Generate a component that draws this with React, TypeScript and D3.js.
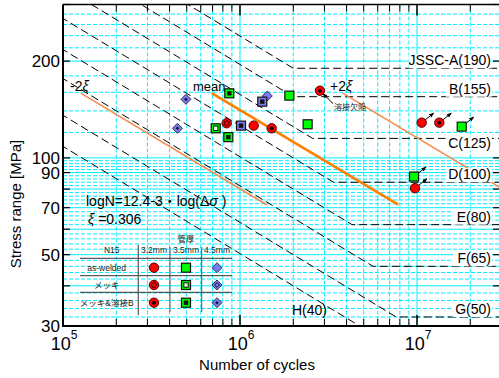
import React from 'react';
import * as d3 from 'd3';

const W = 499;
const H = 378;

// JSSC fatigue strength classes (value at 2x10^6 cycles) and constant amplitude limits
const classLabels = ['JSSC-A(190)', 'B(155)', 'C(125)', 'D(100)', 'E(80)', 'F(65)', 'G(50)', 'H(40)'];
const classStrength = [190, 155, 125, 100, 80, 65, 50, 40];
const classCutoff = [190, 155, 115, 84, 62, 46, 32, 23];

// axis ticks
const yTicks = [30, 40, 50, 60, 70, 80, 90, 100, 200, 300];
const yTickLabels = [200, 100, 90, 70, 50, 30];
const xDecades = [1e5, 1e6, 1e7];
const xTickExp = ['5', '6', '7'];

// test results [cycles, stress range MPa]
const redWelded = [[1.195e6, 126.0]];
const redWeldedRunout = [[1.063e7, 128.7], [9.74e6, 80.5]];
const redPlated = [[8.41e5, 128.2]];
const redPlatedB = [[1.51e6, 123.6], [2.83e6, 161.8]];
const redPlatedBRunout = [[1.337e7, 128.7]];
const greenWelded = [[1.9e6, 156.2], [2.41e6, 127.2]];
const greenWeldedRunout = [[1.789e7, 125.1], [9.62e6, 87.5]];
const greenPlated = [[7.29e5, 123.6]];
const greenPlatedB = [[8.7e5, 158.8], [8.59e5, 116.0]];
const blueWelded = [[1.426e6, 155.8]];
const bluePlatedB = [[4.95e5, 152.1], [4.43e5, 123.6]];
const blueSquareB = [[1.013e6, 126.0], [1.336e6, 149.6]];
const defectPoint = [2.83e6, 161.8];

// regression lines: end stresses and cycles
const fitStress = [159, 71.5];
const meanN = [6.92e5, 7.83e6];
const minus2N = [1.259e5, 1.415e6];
const plus2N = [3.8e6, 4.27e7];

const L = 63, R = 500, T = 4.5, B = 326;
const x = d3.scaleLog().domain([1e5, 1e7]).range([L, 417]);
const y = d3.scaleLog().domain([30, 300]).range([B, T]);

const RED = '#ff0000';
const GREEN = '#00ff00';
const BLUE = '#7a7af2';
const CYAN = '#00eeff';
const ORANGE = '#ff7f00';
const FONT = 'Liberation Sans, Arial, Noto Sans CJK JP, sans-serif';

type Shape = 'circle' | 'square' | 'diamond' | 'bsquare';
type Variant = 'welded' | 'plated' | 'platedB';

function Marker({ shape, variant, cx, cy }: { shape: Shape; variant: Variant; cx: number; cy: number }) {
  if (shape === 'circle') {
    return (
      <g>
        <circle cx={cx} cy={cy} r={4.7} fill={RED} stroke="#500" strokeWidth={1} />
        {variant === 'plated' && <circle cx={cx} cy={cy} r={2.4} fill="none" stroke="#300" strokeWidth={1} />}
        {variant === 'platedB' && <circle cx={cx} cy={cy} r={2} fill="#200" />}
      </g>
    );
  }
  if (shape === 'square' || shape === 'bsquare') {
    const fill = shape === 'square' ? GREEN : BLUE;
    return (
      <g>
        <rect x={cx - 4.5} y={cy - 4.5} width={9} height={9} fill={fill} stroke="#111" strokeWidth={1.2} />
        {variant === 'plated' && <rect x={cx - 2.2} y={cy - 2.2} width={4.4} height={4.4} fill="#e0ffe0" stroke="#111" strokeWidth={1} />}
        {variant === 'platedB' && <rect x={cx - 2.2} y={cy - 2.2} width={4.4} height={4.4} fill="#111" />}
      </g>
    );
  }
  const d = (r: number) => `M${cx},${cy - r}L${cx + r},${cy}L${cx},${cy + r}L${cx - r},${cy}Z`;
  return (
    <g>
      <path d={d(5)} fill={BLUE} stroke="#334" strokeWidth={1} />
      {variant === 'plated' && <path d={d(2.4)} fill="none" stroke="#113" strokeWidth={1} />}
      {variant === 'platedB' && <path d={d(1.8)} fill="#113" />}
    </g>
  );
}

function Points({ data, shape, variant, runout }: { data: number[][]; shape: Shape; variant: Variant; runout?: boolean }) {
  return (
    <g>
      {data.map((p, i) => {
        const cx = x(p[0]);
        const cy = y(p[1]);
        return (
          <g key={i}>
            {runout && (
              <line x1={cx} y1={cy} x2={cx + 12} y2={cy - 9.5} stroke="#000" strokeWidth={1} markerEnd="url(#arr)" />
            )}
            <Marker shape={shape} variant={variant} cx={cx} cy={cy} />
          </g>
        );
      })}
    </g>
  );
}

export default function App() {
  const minorX: number[] = [];
  xDecades.forEach((d) => {
    for (let k = 2; k <= 9; k++) if (x(k * d) < R) minorX.push(k * d);
  });
  const solidY = [40, 50, 60, 70, 80, 90, 100, 200];
  const dashedY = d3.range(32, 100, 2).filter((v) => v % 10 !== 0).concat([120, 140, 160, 180, 220, 240, 260, 280]);

  const line = d3.line<number[]>().x((d) => x(d[0])).y((d) => y(d[1]));
  const classPath = (i: number) => {
    const s = classStrength[i];
    const c = classCutoff[i];
    const knee = 2e6 * Math.pow(s / c, 3);
    return line([
      [1e4, s * Math.pow(2e6 / 1e4, 1 / 3)],
      [knee, c],
      [1e8, c],
    ]);
  };

  // legend geometry
  const lgCols = [154, 186, 217];
  const lgRows = [267.7, 285, 302.7];
  const lgRowLabels = ['as-welded', 'メッキ', 'メッキ&溶接B'];
  const lgVariants: Variant[] = ['welded', 'plated', 'platedB'];
  const lgShapes: Shape[] = ['circle', 'square', 'diamond'];

  return (
    <svg width={W} height={H} style={{ position: 'absolute', left: 0, top: 0, background: '#fff' }} fontFamily={FONT}>
      <defs>
        <clipPath id="plot">
          <rect x={L} y={T} width={R - L} height={B - T} />
        </clipPath>
        <marker id="arr" viewBox="0 0 10 10" refX={9} refY={5} markerWidth={5} markerHeight={5} orient="auto">
          <path d="M0,1L10,5L0,9Z" fill="#000" />
        </marker>
      </defs>
      <rect width={W} height={H} fill="#fff" />

      {/* grid */}
      <g>
        {minorX.map((v) => (
          <line key={'vx' + v} x1={x(v)} x2={x(v)} y1={T} y2={B} stroke={CYAN} strokeWidth={1} strokeDasharray="4,2" />
        ))}
        {[1e6, 1e7].map((v) => (
          <line key={'vs' + v} x1={x(v)} x2={x(v)} y1={T} y2={B} stroke={CYAN} strokeWidth={1} />
        ))}
        {dashedY.map((v) => (
          <line key={'hd' + v} x1={L} x2={R} y1={y(v)} y2={y(v)} stroke={CYAN} strokeWidth={1} strokeDasharray="4,2" />
        ))}
        {solidY.map((v) => (
          <line key={'hs' + v} x1={L} x2={R} y1={y(v)} y2={y(v)} stroke={CYAN} strokeWidth={1} />
        ))}
      </g>

      {/* JSSC class lines */}
      <g clipPath="url(#plot)">
        {classStrength.map((s, i) => (
          <path key={'c' + i} d={classPath(i) || ''} fill="none" stroke="#000" strokeWidth={1} strokeDasharray="8,4" />
        ))}
      </g>

      {/* regression lines */}
      <g clipPath="url(#plot)">
        <path d={line([[minus2N[0], fitStress[0]], [minus2N[1], fitStress[1]]]) || ''} stroke="#f58a4a" strokeWidth={1.5} fill="none" />
        <path d={line([[plus2N[0], fitStress[0]], [plus2N[1], fitStress[1]]]) || ''} stroke="#f58a4a" strokeWidth={1.5} fill="none" />
        <path d={line([[meanN[0], fitStress[0]], [meanN[1], fitStress[1]]]) || ''} stroke={ORANGE} strokeWidth={2.6} fill="none" />
      </g>

      {/* class labels */}
      {classLabels.slice(0, 7).map((lab, i) => {
        const base = y(classCutoff[i]) + (i === 2 ? 9.5 : -3);
        const w = lab.length * 7.4;
        return (
          <g key={lab}>
            <rect x={491 - w - 1} y={base - 11} width={w + 2} height={14} fill="#fff" />
            <text x={491} y={base} fontSize={14} textAnchor="end" fill="#000">{lab}</text>
          </g>
        );
      })}
      <text x={292} y={315} fontSize={14} fill="#000">{classLabels[7]}</text>

      {/* annotations */}
      <text x={193} y={91} fontSize={13}>mean</text>
      <text x={70} y={91} fontSize={14}>-2<tspan fontStyle="italic">ξ</tspan></text>
      <text x={330} y={91} fontSize={14}>+2<tspan fontStyle="italic">ξ</tspan></text>
      <line x1={333} y1={103.5} x2={x(defectPoint[0]) + 3} y2={y(defectPoint[1]) + 3} stroke="#000" strokeWidth={1} markerEnd="url(#arr)" />
      <text x={334} y={110} fontSize={8} fill="#222">溶接欠陥</text>
      <text x={86} y={206} fontSize={14}>logN=12.4-3・log(Δ<tspan fontStyle="italic">σ</tspan> )</text>
      <text x={88} y={224} fontSize={14}><tspan fontStyle="italic">ξ</tspan> =0.306</text>

      {/* data */}
      <Points data={redWelded} shape="circle" variant="welded" />
      <Points data={redWeldedRunout} shape="circle" variant="welded" runout />
      <Points data={redPlated} shape="circle" variant="plated" />
      <Points data={redPlatedB} shape="circle" variant="platedB" />
      <Points data={redPlatedBRunout} shape="circle" variant="platedB" runout />
      <Points data={blueWelded} shape="diamond" variant="welded" />
      <Points data={bluePlatedB} shape="diamond" variant="platedB" />
      <Points data={blueSquareB} shape="bsquare" variant="platedB" />
      <Points data={greenWelded} shape="square" variant="welded" />
      <Points data={greenWeldedRunout} shape="square" variant="welded" runout />
      <Points data={greenPlated} shape="square" variant="plated" />
      <Points data={greenPlatedB} shape="square" variant="platedB" />

      {/* legend table */}
      <g fontSize={8.5} fill="#222" textAnchor="middle">
        <text x={186} y={242}>管厚</text>
        <text x={111.7} y={253}>N15</text>
        {['3.2mm', '3.5mm', '4.5mm'].map((t, i) => (
          <text key={t} x={lgCols[i]} y={253}>{t}</text>
        ))}
        {[258.3, 275.7, 292.3].map((yy) => (
          <line key={yy} x1={80} x2={232} y1={yy} y2={yy} stroke="#333" strokeWidth={1} />
        ))}
        <line x1={138.3} x2={138.3} y1={245} y2={315} stroke="#555" strokeWidth={1.2} />
        <line x1={170} x2={170} y1={247} y2={312} stroke="#555" strokeWidth={1} />
        <line x1={201.7} x2={201.7} y1={247} y2={312} stroke="#555" strokeWidth={1} />
        {lgRowLabels.map((t, r) => (
          <text key={t} x={106.7} y={lgRows[r] + 3}>{t}</text>
        ))}
        {lgRows.map((ry, r) =>
          lgCols.map((cx, c) => <Marker key={r + '-' + c} shape={lgShapes[c]} variant={lgVariants[r]} cx={cx} cy={ry} />)
        )}
      </g>

      {/* axes frame */}
      <line x1={L} x2={R} y1={T} y2={T} stroke="#000" strokeWidth={1.5} />
      <line x1={L} x2={L} y1={T} y2={B} stroke="#000" strokeWidth={2} />
      <line x1={L - 1} x2={R} y1={B} y2={B} stroke="#000" strokeWidth={2} />
      <line x1={R} x2={R} y1={T} y2={B} stroke="#000" strokeWidth={2} />

      {/* x ticks */}
      {minorX.map((v) => (
        <g key={'tx' + v}>
          <line x1={x(v)} x2={x(v)} y1={B} y2={B - 7} stroke="#000" strokeWidth={1} />
          <line x1={x(v)} x2={x(v)} y1={T} y2={T + 7} stroke="#000" strokeWidth={1} />
        </g>
      ))}
      {xDecades.map((v, i) => (
        <g key={'txm' + v}>
          <line x1={x(v)} x2={x(v)} y1={B} y2={B - 11} stroke="#000" strokeWidth={1.5} />
          <line x1={x(v)} x2={x(v)} y1={T} y2={T + 11} stroke="#000" strokeWidth={1.5} />
          <text x={x(v) + 1} y={350} fontSize={18} textAnchor="middle">
            10<tspan fontSize={12} dy={-11}>{xTickExp[i]}</tspan>
          </text>
        </g>
      ))}

      {/* y ticks */}
      {yTicks.map((v) => (
        <g key={'ty' + v}>
          <line x1={L} x2={L + 7} y1={y(v)} y2={y(v)} stroke="#000" strokeWidth={1.2} />
          <line x1={R} x2={R - 7} y1={y(v)} y2={y(v)} stroke="#000" strokeWidth={1.2} />
        </g>
      ))}
      {yTickLabels.map((v) => (
        <text key={'yl' + v} x={60} y={y(v) + 6} fontSize={17} textAnchor="end">{v}</text>
      ))}

      {/* axis titles */}
      <text x={257} y={370} fontSize={15} textAnchor="middle">Number of cycles</text>
      <text transform="translate(21,204) rotate(-90)" fontSize={15} textAnchor="middle">Stress range [MPa]</text>
    </svg>
  );
}
